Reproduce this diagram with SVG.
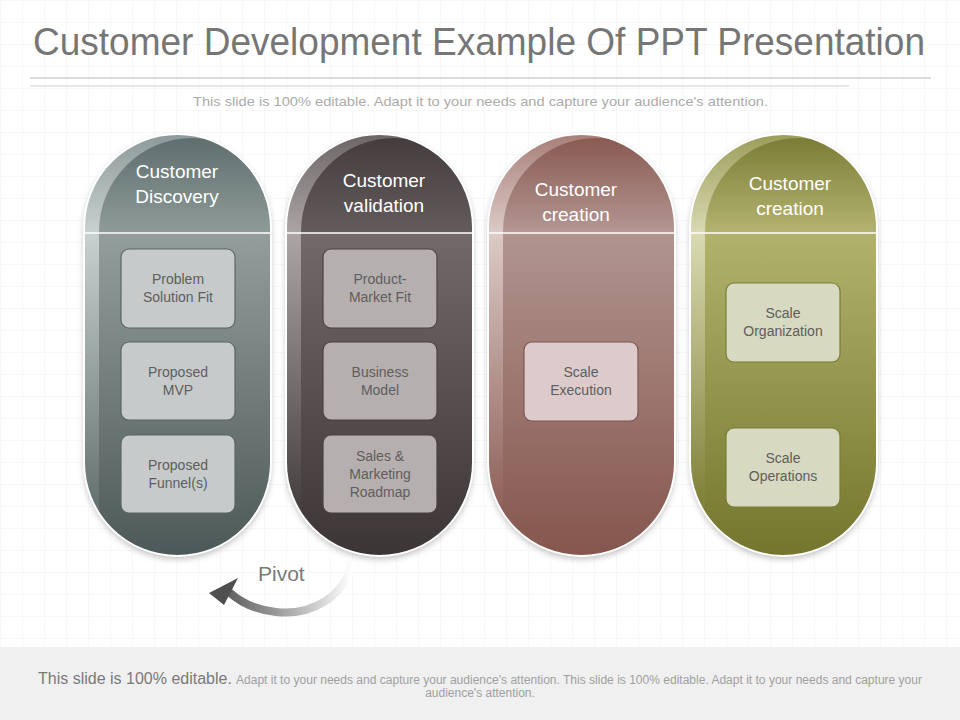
<svg xmlns="http://www.w3.org/2000/svg" width="960" height="720" viewBox="0 0 960 720">
<defs>
<style>
.title{font-family:"Liberation Sans",Arial,sans-serif;font-size:38px;fill:#767676}
.sub{font-family:"Liberation Sans",Arial,sans-serif;font-size:13.5px;fill:#ababab}
.head{font-family:"Liberation Sans",Arial,sans-serif;font-size:19px;fill:#ffffff;text-anchor:middle}
.box{stroke-width:1.2}
.btxt{font-family:"Liberation Sans",Arial,sans-serif;font-size:14px;fill:#5e5e5e;text-anchor:middle}
.outline{fill:none;stroke:#ffffff;stroke-width:2}
.divider{stroke:#ffffff;stroke-width:1.5}
.foot1{font-family:"Liberation Sans",Arial,sans-serif;font-size:16px;fill:#7a7a7a}
.foot2{font-family:"Liberation Sans",Arial,sans-serif;font-size:12px;fill:#a0a0a0}
</style>
<pattern id="grid" width="22" height="22" patternUnits="userSpaceOnUse">
<path d="M22 0H0V22" fill="none" stroke="#f1f1f1" stroke-width="1"/>
</pattern>
<filter id="shadow" x="-20%" y="-10%" width="140%" height="125%">
<feDropShadow dx="0" dy="3" stdDeviation="3" flood-color="#000" flood-opacity="0.25"/>
</filter>
<clipPath id="pillClip">
<path d="M0 227.5A93.5 93.5 0 0 1 187 227.5V462.5A93.5 93.5 0 0 1 0 462.5Z"/>
</clipPath>
<path id="pillShape" d="M0 227.5A93.5 93.5 0 0 1 187 227.5V462.5A93.5 93.5 0 0 1 0 462.5Z"/>
<!-- pill 1 -->
<linearGradient id="bev1" gradientUnits="userSpaceOnUse" x1="0" y1="134" x2="0" y2="556"><stop offset="0" stop-color="#8d9a99"/><stop offset="0.235" stop-color="#c9d1d0"/><stop offset="0.85" stop-color="#6a7675"/><stop offset="1" stop-color="#525e5d"/></linearGradient>
<linearGradient id="top1" gradientUnits="userSpaceOnUse" x1="0" y1="134" x2="0" y2="233"><stop offset="0" stop-color="#5d6d6c"/><stop offset="1" stop-color="#8e9b99"/></linearGradient>
<linearGradient id="bot1" gradientUnits="userSpaceOnUse" x1="0" y1="233" x2="0" y2="556"><stop offset="0" stop-color="#939d9c"/><stop offset="1" stop-color="#4d5958"/></linearGradient>
<!-- pill 2 -->
<linearGradient id="bev2" gradientUnits="userSpaceOnUse" x1="0" y1="134" x2="0" y2="556"><stop offset="0" stop-color="#6d6666"/><stop offset="0.235" stop-color="#aba5a5"/><stop offset="0.85" stop-color="#4c4545"/><stop offset="1" stop-color="#3c3535"/></linearGradient>
<linearGradient id="top2" gradientUnits="userSpaceOnUse" x1="0" y1="134" x2="0" y2="233"><stop offset="0" stop-color="#433c3c"/><stop offset="1" stop-color="#645c5c"/></linearGradient>
<linearGradient id="bot2" gradientUnits="userSpaceOnUse" x1="0" y1="233" x2="0" y2="556"><stop offset="0" stop-color="#726a6a"/><stop offset="1" stop-color="#3c3535"/></linearGradient>
<!-- pill 3 -->
<linearGradient id="bev3" gradientUnits="userSpaceOnUse" x1="0" y1="134" x2="0" y2="556"><stop offset="0" stop-color="#a87f79"/><stop offset="0.235" stop-color="#dccac7"/><stop offset="0.85" stop-color="#936760"/><stop offset="1" stop-color="#85564e"/></linearGradient>
<linearGradient id="top3" gradientUnits="userSpaceOnUse" x1="0" y1="134" x2="0" y2="233"><stop offset="0" stop-color="#875850"/><stop offset="1" stop-color="#b49692"/></linearGradient>
<linearGradient id="bot3" gradientUnits="userSpaceOnUse" x1="0" y1="233" x2="0" y2="556"><stop offset="0" stop-color="#b1948f"/><stop offset="1" stop-color="#85564d"/></linearGradient>
<!-- pill 4 -->
<linearGradient id="bev4" gradientUnits="userSpaceOnUse" x1="0" y1="134" x2="0" y2="556"><stop offset="0" stop-color="#9c9d5a"/><stop offset="0.235" stop-color="#d9dab2"/><stop offset="0.85" stop-color="#83853d"/><stop offset="1" stop-color="#74762d"/></linearGradient>
<linearGradient id="top4" gradientUnits="userSpaceOnUse" x1="0" y1="134" x2="0" y2="233"><stop offset="0" stop-color="#797b35"/><stop offset="1" stop-color="#b4b470"/></linearGradient>
<linearGradient id="bot4" gradientUnits="userSpaceOnUse" x1="0" y1="233" x2="0" y2="556"><stop offset="0" stop-color="#b1b26b"/><stop offset="1" stop-color="#74762e"/></linearGradient>
<linearGradient id="arrowGrad" gradientUnits="userSpaceOnUse" x1="215" y1="0" x2="352" y2="0"><stop offset="0" stop-color="#4f4f4f"/><stop offset="0.45" stop-color="#9a9a9a"/><stop offset="1" stop-color="#ffffff"/></linearGradient>
</defs>

<rect width="960" height="720" fill="#ffffff"/>
<rect width="960" height="647" fill="url(#grid)"/>

<text class="title" x="33" y="55" textLength="892" lengthAdjust="spacingAndGlyphs">Customer Development Example Of PPT Presentation</text>
<line x1="30" y1="78" x2="931" y2="78" stroke="#b9b9b9" stroke-width="1"/>
<line x1="30" y1="86" x2="849" y2="86" stroke="#cfcfcf" stroke-width="1"/>
<text class="sub" x="193" y="106" textLength="575" lengthAdjust="spacingAndGlyphs">This slide is 100% editable. Adapt it to your needs and capture your audience's attention.</text>

<g id="pill-discovery" transform="translate(84,0)">
<use href="#pillShape" fill="#5d6968" filter="url(#shadow)"/>
<g clip-path="url(#pillClip)">
<rect x="0" y="130" width="190" height="430" fill="url(#bev1)"/>
<path d="M15 231.5A93.5 93.5 0 0 1 202 231.5V233H15Z" fill="url(#top1)"/>
<rect x="15" y="233" width="175" height="330" fill="url(#bot1)"/>
</g>
<use href="#pillShape" class="outline"/>
<line class="divider" x1="1" y1="233" x2="186" y2="233"/>
<text class="head" x="93" y="178">Customer</text>
<text class="head" x="93" y="203">Discovery</text>
<g id="box-problem-solution-fit"><rect class="box" x="37" y="249" width="114" height="79" rx="8" fill="#c6caca" stroke="#5b6565"/>
<text class="btxt" x="94" y="284">Problem</text><text class="btxt" x="94" y="302">Solution Fit</text></g>
<g id="box-proposed-mvp"><rect class="box" x="37" y="342" width="114" height="78" rx="8" fill="#c6caca" stroke="#5b6565"/>
<text class="btxt" x="94" y="377">Proposed</text><text class="btxt" x="94" y="395">MVP</text></g>
<g id="box-proposed-funnels"><rect class="box" x="37" y="435" width="114" height="78" rx="8" fill="#c6caca" stroke="#5b6565"/>
<text class="btxt" x="94" y="470">Proposed</text><text class="btxt" x="94" y="488">Funnel(s)</text></g>
</g>

<g id="pill-validation" transform="translate(286,0)">
<use href="#pillShape" fill="#3f3838" filter="url(#shadow)"/>
<g clip-path="url(#pillClip)">
<rect x="0" y="130" width="190" height="430" fill="url(#bev2)"/>
<path d="M15 231.5A93.5 93.5 0 0 1 202 231.5V233H15Z" fill="url(#top2)"/>
<rect x="15" y="233" width="175" height="330" fill="url(#bot2)"/>
</g>
<use href="#pillShape" class="outline"/>
<line class="divider" x1="1" y1="233" x2="186" y2="233"/>
<text class="head" x="98" y="187">Customer</text>
<text class="head" x="98" y="212">validation</text>
<g id="box-product-market-fit"><rect class="box" x="37" y="249" width="114" height="79" rx="8" fill="#b5afaf" stroke="#4a4343"/>
<text class="btxt" x="94" y="284">Product-</text><text class="btxt" x="94" y="302">Market Fit</text></g>
<g id="box-business-model"><rect class="box" x="37" y="342" width="114" height="78" rx="8" fill="#b5afaf" stroke="#4a4343"/>
<text class="btxt" x="94" y="377">Business</text><text class="btxt" x="94" y="395">Model</text></g>
<g id="box-sales-marketing"><rect class="box" x="37" y="435" width="114" height="78" rx="8" fill="#b5afaf" stroke="#4a4343"/>
<text class="btxt" x="94" y="461">Sales &amp;</text><text class="btxt" x="94" y="479">Marketing</text><text class="btxt" x="94" y="497">Roadmap</text></g>
</g>

<g id="pill-creation-1" transform="translate(488,0)">
<use href="#pillShape" fill="#85564e" filter="url(#shadow)"/>
<g clip-path="url(#pillClip)">
<rect x="0" y="130" width="190" height="430" fill="url(#bev3)"/>
<path d="M15 231.5A93.5 93.5 0 0 1 202 231.5V233H15Z" fill="url(#top3)"/>
<rect x="15" y="233" width="175" height="330" fill="url(#bot3)"/>
</g>
<use href="#pillShape" class="outline"/>
<line class="divider" x1="1" y1="233" x2="186" y2="233"/>
<text class="head" x="88" y="196">Customer</text>
<text class="head" x="88" y="221">creation</text>
<g id="box-scale-execution"><rect class="box" x="36" y="342" width="114" height="79" rx="8" fill="#dccbca" stroke="#7e5750"/>
<text class="btxt" x="93" y="377">Scale</text><text class="btxt" x="93" y="395">Execution</text></g>
</g>

<g id="pill-creation-2" transform="translate(690,0)">
<use href="#pillShape" fill="#74762e" filter="url(#shadow)"/>
<g clip-path="url(#pillClip)">
<rect x="0" y="130" width="190" height="430" fill="url(#bev4)"/>
<path d="M15 231.5A93.5 93.5 0 0 1 202 231.5V233H15Z" fill="url(#top4)"/>
<rect x="15" y="233" width="175" height="330" fill="url(#bot4)"/>
</g>
<use href="#pillShape" class="outline"/>
<line class="divider" x1="1" y1="233" x2="186" y2="233"/>
<text class="head" x="100" y="190">Customer</text>
<text class="head" x="100" y="215">creation</text>
<g id="box-scale-organization"><rect class="box" x="36" y="283" width="114" height="79" rx="8" fill="#d7d9c0" stroke="#7a7c38"/>
<text class="btxt" x="93" y="318">Scale</text><text class="btxt" x="93" y="336">Organization</text></g>
<g id="box-scale-operations"><rect class="box" x="36" y="428" width="114" height="79" rx="8" fill="#d7d9c0" stroke="#7a7c38"/>
<text class="btxt" x="93" y="463">Scale</text><text class="btxt" x="93" y="481">Operations</text></g>
</g>

<g id="connectors">
<path d="M352 561C346 596 312 616 276 612C256 610 240 602 229 592" fill="none" stroke="url(#arrowGrad)" stroke-width="8"/>
<polygon points="209,593 238,578 224,605" fill="#4f4f4f"/>
<text x="258" y="581" font-family="'Liberation Sans',Arial,sans-serif" font-size="21" fill="#7a7a7a">Pivot</text>
</g>

<rect x="0" y="647" width="960" height="73" fill="#f0f0f0"/>
<text class="foot1" x="38" y="684">This slide is 100% editable.</text>
<text class="foot2" x="236" y="684" textLength="686" lengthAdjust="spacingAndGlyphs">Adapt it to your needs and capture your audience's attention. This slide is 100% editable. Adapt it to your needs and capture your</text>
<text class="foot2" x="480" y="697" text-anchor="middle">audience's attention.</text>
</svg>
